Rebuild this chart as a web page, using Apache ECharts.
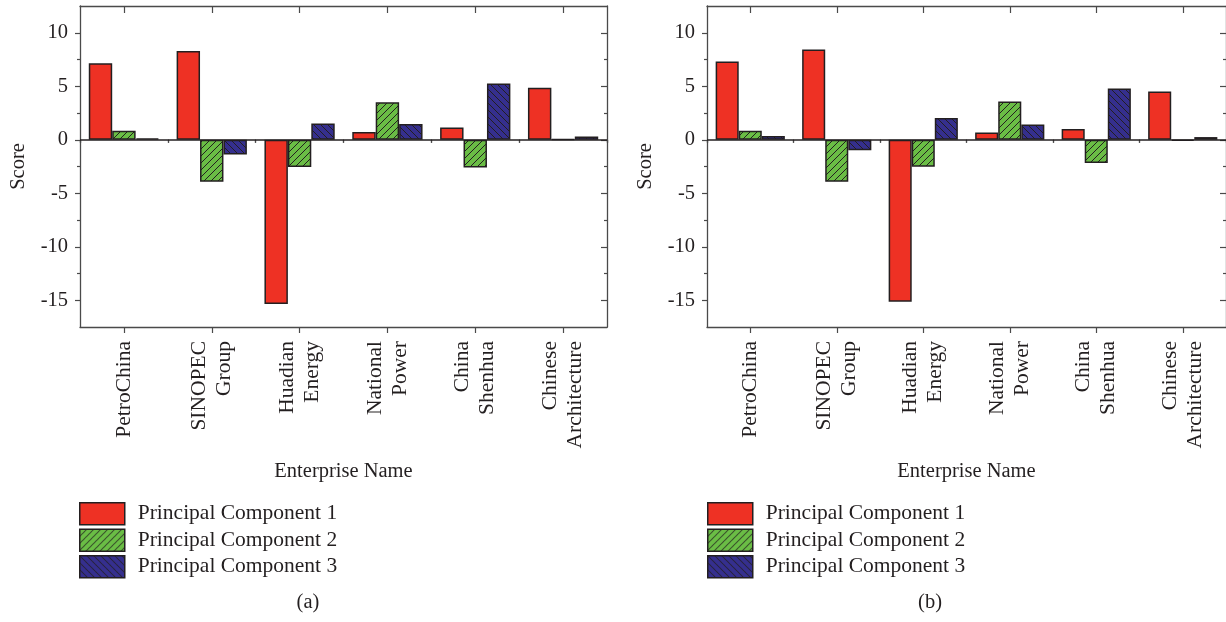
<!DOCTYPE html>
<html>
<head>
<meta charset="utf-8">
<script src="https://cdn.jsdelivr.net/npm/echarts@6/dist/echarts.min.js"></script>
<style>
html,body{margin:0;padding:0;background:#fff;}
#chart{width:1226px;height:622px;}
</style>
</head>
<body>
<div id="chart"></div>
<script>
// ---- data ----
const categories = ['PetroChina', 'SINOPEC\nGroup', 'Huadian\nEnergy', 'National\nPower', 'China\nShenhua', 'Chinese\nArchitecture'];
const seriesNames = ['Principal Component 1', 'Principal Component 2', 'Principal Component 3'];
// panel (a)
const a_pc1 = [7.15, 8.3, -15.35, 0.72, 1.15, 4.85];
const a_pc2 = [0.84, -3.93, -2.55, 3.5, -2.6, 0.05];
const a_pc3 = [0.12, -1.37, 1.52, 1.47, 5.26, 0.31];
// panel (b)
const b_pc1 = [7.32, 8.44, -15.14, 0.68, 1.0, 4.51];
const b_pc2 = [0.84, -3.93, -2.52, 3.58, -2.18, -0.1];
const b_pc3 = [0.34, -0.97, 2.03, 1.43, 4.8, 0.25];
// axis ticks
const yMin = -17.5, yMax = 12.5;
const yMajorTicks = [-15, -10, -5, 0, 5, 10];
const yMinorTicks = [-12.5, -7.5, -2.5, 2.5, 7.5];
const panelLabels = ['(a)', '(b)'];
const xAxisName = 'Enterprise Name';
const yAxisName = 'Score';

// ---- style ----
const FONT = "'Liberation Serif', 'Times New Roman', serif";
const TXT = '#231F20';
const FRAME = '#4a4a4a';
const EDGE = '#231F20';
const RED = '#EE3124';
const GREEN = '#6ABD45';
const BLUE = '#352F8E';

function hatch(bg, dir) {
  const s = 7;
  const c = document.createElement('canvas');
  c.width = s; c.height = s;
  const ctx = c.getContext('2d');
  ctx.fillStyle = bg; ctx.fillRect(0, 0, s, s);
  ctx.strokeStyle = EDGE; ctx.lineWidth = 1;
  ctx.beginPath();
  if (dir === '/') {
    ctx.moveTo(-1, s + 1); ctx.lineTo(s + 1, -1);
    ctx.moveTo(-1, 1); ctx.lineTo(1, -1);
    ctx.moveTo(s - 1, s + 1); ctx.lineTo(s + 1, s - 1);
  } else {
    ctx.moveTo(-1, -1); ctx.lineTo(s + 1, s + 1);
    ctx.moveTo(s - 1, -1); ctx.lineTo(s + 1, 1);
    ctx.moveTo(-1, s - 1); ctx.lineTo(1, s + 1);
  }
  ctx.stroke();
  return { image: c, repeat: 'repeat' };
}
const fills = [RED, hatch(GREEN, '/'), hatch(BLUE, '\\')];

const grids = [
  { left: 80, top: 6, width: 527, height: 321 },
  { left: 707, top: 6, width: 519, height: 321 }
];

const xAxes = [], yAxes = [], series = [];
const panelData = [[a_pc1, a_pc2, a_pc3], [b_pc1, b_pc2, b_pc3]];

grids.forEach((g, gi) => {
  const base = { type: 'category', data: categories, gridIndex: gi, boundaryGap: true,
    splitLine: { show: false }, axisLabel: { show: false }, axisLine: { show: false } };
  const xi = xAxes.length;
  xAxes.push(Object.assign({}, base, {
    position: 'bottom',
    axisLine: { show: true, onZero: false, lineStyle: { color: FRAME, width: 1.3 } },
    axisTick: { show: true, alignWithLabel: true, length: 6, lineStyle: { color: FRAME, width: 1.2 } },
    axisLabel: { show: true, rotate: 90, margin: 14, fontFamily: FONT, fontSize: 21.5, lineHeight: 25, color: TXT, interval: 0 },
    name: xAxisName, nameLocation: 'middle', nameGap: 134,
    nameTextStyle: { fontFamily: FONT, fontSize: 20.5, color: TXT }
  }));
  xAxes.push(Object.assign({}, base, {
    position: 'bottom',
    axisTick: { show: true, alignWithLabel: false, length: 3, lineStyle: { color: FRAME, width: 1.2 } }
  }));
  xAxes.push(Object.assign({}, base, {
    position: 'top',
    axisLine: { show: true, onZero: false, lineStyle: { color: FRAME, width: 1.3 } },
    axisTick: { show: true, inside: true, alignWithLabel: true, length: 7, lineStyle: { color: FRAME, width: 1.2 } }
  }));
  xAxes.push(Object.assign({}, base, {
    position: 'top',
    axisTick: { show: true, inside: true, alignWithLabel: false, length: 3, lineStyle: { color: FRAME, width: 1.2 } }
  }));

  const ybase = { type: 'value', gridIndex: gi, min: yMin, max: yMax, splitLine: { show: false },
    axisLabel: { show: false }, axisLine: { show: false } };
  const yi = yAxes.length;
  yAxes.push(Object.assign({}, ybase, {
    position: 'left',
    axisLine: { show: true, onZero: false, lineStyle: { color: FRAME, width: 1.3 } },
    axisTick: { show: true, length: 5, customValues: yMajorTicks, lineStyle: { color: FRAME, width: 1.2 } },
    axisLabel: { show: true, customValues: yMajorTicks, margin: 12, fontFamily: FONT, fontSize: 20.5, color: TXT },
    name: yAxisName, nameLocation: 'middle', nameGap: 51, nameRotate: 90,
    nameTextStyle: { fontFamily: FONT, fontSize: 20.5, color: TXT }
  }));
  yAxes.push(Object.assign({}, ybase, {
    position: 'left',
    axisTick: { show: true, length: 3, customValues: yMinorTicks, lineStyle: { color: FRAME, width: 1.2 } }
  }));
  yAxes.push(Object.assign({}, ybase, {
    position: 'right',
    axisLine: { show: true, onZero: false, lineStyle: { color: FRAME, width: 1.3 } },
    axisTick: { show: true, inside: true, length: 6, customValues: yMajorTicks, lineStyle: { color: FRAME, width: 1.2 } }
  }));
  yAxes.push(Object.assign({}, ybase, {
    position: 'right',
    axisTick: { show: true, inside: true, length: 3, customValues: yMinorTicks, lineStyle: { color: FRAME, width: 1.2 } }
  }));

  panelData[gi].forEach((vals, si) => {
    const s = {
      type: 'bar', name: seriesNames[si], data: vals,
      xAxisIndex: xi, yAxisIndex: yi,
      barGap: '0%', barCategoryGap: '20%',
      itemStyle: { color: fills[si], borderColor: EDGE, borderWidth: 1.5 },
      emphasis: { disabled: true }
    };
    if (si === 2) {
      s.markLine = {
        silent: true, symbol: 'none', label: { show: false },
        lineStyle: { color: EDGE, type: 'solid', width: 1.5 },
        data: [{ yAxis: 0 }], z: 10
      };
    }
    series.push(s);
  });
});

const legendCommon = {
  orient: 'vertical', icon: 'rect', itemWidth: 45, itemHeight: 22, itemGap: 3,
  padding: 0, selectedMode: false,
  itemStyle: { borderColor: EDGE, borderWidth: 1.5 },
  textStyle: { fontFamily: FONT, fontSize: 21.5, lineHeight: 22, color: TXT, padding: [0, 0, 0, 8] },
  data: seriesNames
};

const chart = echarts.init(document.getElementById('chart'), null, { renderer: 'canvas' });
chart.setOption({
  animation: false,
  backgroundColor: '#fff',
  grid: grids,
  xAxis: xAxes,
  yAxis: yAxes,
  series: series,
  legend: [
    Object.assign({}, legendCommon, { left: 79, top: 502 }),
    Object.assign({}, legendCommon, { left: 707, top: 502 })
  ],
  graphic: [
    { type: 'text', x: 308, y: 603, style: { text: panelLabels[0], fontFamily: FONT, fontSize: 20.5, fill: TXT, textAlign: 'center', textVerticalAlign: 'middle' } },
    { type: 'text', x: 930, y: 603, style: { text: panelLabels[1], fontFamily: FONT, fontSize: 20.5, fill: TXT, textAlign: 'center', textVerticalAlign: 'middle' } }
  ]
});
</script>
</body>
</html>
